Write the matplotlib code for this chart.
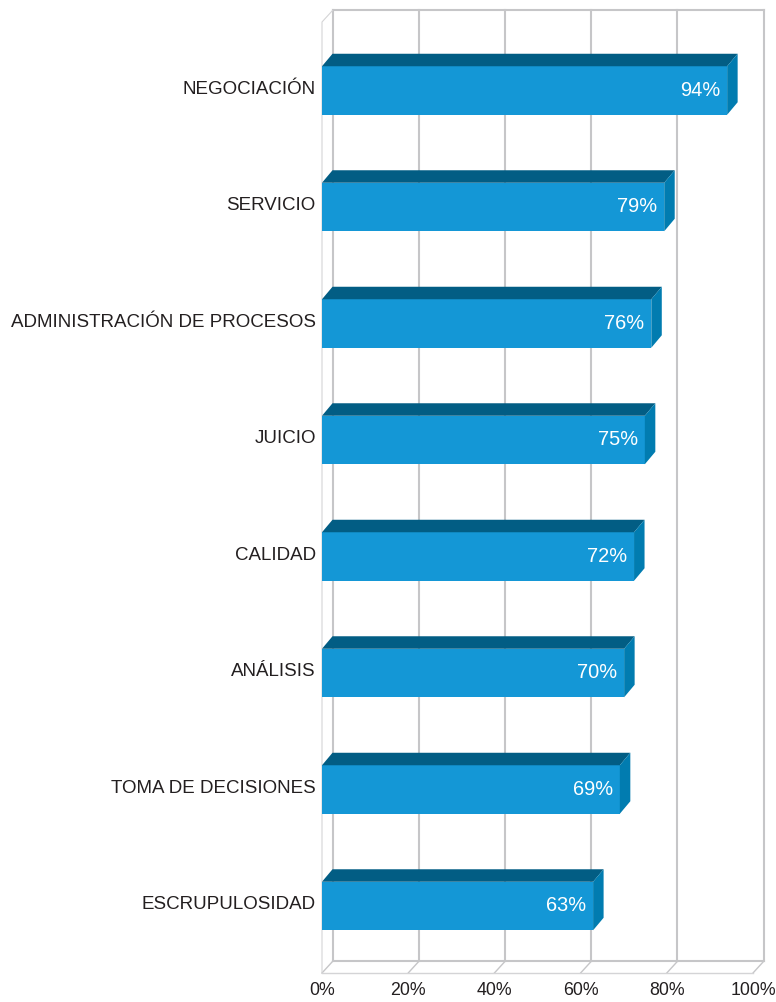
import matplotlib
matplotlib.use("Agg")
import matplotlib.pyplot as plt
from matplotlib.patches import Polygon
from matplotlib.transforms import ScaledTranslation

categories = ["NEGOCIACIÓN", "SERVICIO", "ADMINISTRACIÓN DE PROCESOS", "JUICIO",
              "CALIDAD", "ANÁLISIS", "TOMA DE DECISIONES", "ESCRUPULOSIDAD"]
values = [94.0, 79.4, 76.4, 74.9, 72.4, 70.1, 69.1, 62.9]
x_ticks = [0, 20, 40, 60, 80, 100]

W, H = 776, 1002
FRONT = "#1497d6"
TOP = "#025d84"
SIDE = "#017cb0"
GRID = "#c6c6c8"
TEXT = "#231f20"

plt.rcParams["font.family"] = ["Liberation Sans", "DejaVu Sans"]
fig = plt.figure(figsize=(W / 100, H / 100), dpi=100, facecolor="white")
left, right, top_px, bot_px = 322, 753, 22, 973
ax = fig.add_axes([left / W, 1 - bot_px / H, (right - left) / W, (bot_px - top_px) / H])
ax.set_xlim(0, 100)
ax.set_ylim(7.575, -0.588)
ax.patch.set_visible(False)
for s in ax.spines.values():
    s.set_visible(False)

px_x = 100 / (right - left)
px_y = 1 / 116.5
dx, dy = 10.5 * px_x, 11.5 * px_y
y_top, y_bot = ax.get_ylim()[1], ax.get_ylim()[0]

# back wall and floor
for t in x_ticks:
    ax.plot([t + dx, t + dx], [y_top - dy, y_bot - dy], color=GRID, lw=1.5, clip_on=False, zorder=1)
    ax.plot([t, t + dx], [y_bot, y_bot - dy], color=GRID, lw=1.0, clip_on=False, zorder=1)
ax.plot([dx, 100 + dx], [y_top - dy, y_top - dy], color=GRID, lw=1.5, clip_on=False, zorder=1)
ax.plot([dx, 100 + dx], [y_bot - dy, y_bot - dy], color=GRID, lw=1.5, clip_on=False, zorder=1)
ax.plot([0, 100], [y_bot, y_bot], color="#d4d4d6", lw=1.0, clip_on=False, zorder=1)
ax.plot([0, 0, dx], [y_bot, y_top, y_top - dy], color="#d4d4d6", lw=0.8, clip_on=False, zorder=1)

# bars
ypos = list(range(len(categories)))
bar_h = 48.5 * px_y
bdy = 12.5 * px_y
ax.barh(ypos, values, height=bar_h, color=FRONT, zorder=3, clip_on=False)
for y, v in zip(ypos, values):
    t, b = y - bar_h / 2, y + bar_h / 2
    ax.add_patch(Polygon([(0, t), (dx, t - bdy), (v + dx, t - bdy), (v, t)],
                         closed=True, fc=TOP, ec="none", zorder=3, clip_on=False))
    ax.add_patch(Polygon([(v, t), (v + dx, t - bdy), (v + dx, b - bdy), (v, b)],
                         closed=True, fc=SIDE, ec="none", zorder=3, clip_on=False))
    ax.text(v - 7 * px_x, y - 0.5 * px_y, f"{round(v)}%", ha="right", va="center",
            color="white", fontsize=14.4, zorder=4)

ax.set_yticks(ypos)
ax.set_yticklabels(categories, fontsize=13.5, color=TEXT)
ax.set_xticks(x_ticks)
ax.set_xticklabels([f"{t}%" for t in x_ticks], fontsize=12.8, color=TEXT)
ax.tick_params(axis="both", length=0)
ax.tick_params(axis="y", pad=4.5)
ax.tick_params(axis="x", pad=6.5)
shift = ScaledTranslation(0, 2.5 / 72, fig.dpi_scale_trans)
for lab in ax.get_yticklabels():
    lab.set_transform(lab.get_transform() + shift)

fig.savefig("out.png", dpi=100, facecolor="white")
